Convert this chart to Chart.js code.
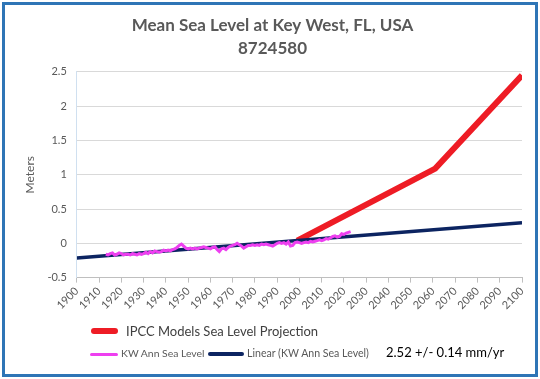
<!DOCTYPE html>
<html><head><meta charset="utf-8">
<script src="https://cdn.jsdelivr.net/npm/chart.js@4"></script>
<style>
html,body{margin:0;padding:0;background:#fff;}
#wrap{position:relative;width:540px;height:379px;overflow:hidden;}
#frame{position:absolute;left:2px;top:2px;width:530px;height:369px;border:3px solid #2e75b6;}
canvas{position:absolute;left:0;top:0;}
.lg{position:absolute;font-family:Lato,"Open Sans",sans-serif;color:#404040;white-space:nowrap;}
.sw{position:absolute;border-radius:3px;}
</style></head><body>
<div id="wrap">
<canvas id="c" width="540" height="379"></canvas>
<div id="frame"></div>
<div class="sw" style="left:91px;top:328px;width:27px;height:6px;background:#ee1c25"></div>
<div class="lg" style="left:126px;top:323px;font-size:13px;">IPCC Models Sea Level Projection</div>
<div class="sw" style="left:90px;top:353px;width:28px;height:3px;background:#ee3ff0"></div>
<div class="lg" style="left:121px;top:347px;font-size:10.4px;color:#595959">KW Ann Sea Level</div>
<div class="sw" style="left:208px;top:352px;width:36px;height:4px;background:#0c2461"></div>
<div class="lg" style="left:247px;top:347px;font-size:10.6px;color:#595959">Linear (KW Ann Sea Level)</div>
<div class="lg" style="left:386px;top:344px;font-size:13px;color:#000">2.52 +/- 0.14 mm/yr</div>
</div>
<script>
const kwStartYear = 1913;
const kwValues = [-0.16,-0.17,-0.15,-0.14,-0.17,-0.16,-0.14,-0.15,-0.17,-0.16,
-0.16,-0.17,-0.15,-0.16,-0.17,-0.15,-0.16,-0.15,-0.13,-0.15,
-0.12,-0.14,-0.11,-0.12,-0.13,-0.12,-0.10,-0.11,-0.10,-0.11,
-0.09,-0.08,-0.06,-0.03,-0.01,-0.04,-0.07,-0.08,-0.07,-0.08,
-0.07,-0.08,-0.07,-0.06,-0.05,-0.06,-0.07,-0.08,-0.06,-0.05,
-0.09,-0.12,-0.08,-0.07,-0.09,-0.06,-0.04,-0.03,-0.02,0.00,
-0.02,-0.04,-0.07,-0.05,-0.03,-0.03,-0.02,-0.03,-0.02,-0.03,
-0.01,-0.02,-0.01,-0.02,-0.03,-0.04,-0.02,0.00,0.01,0.00,
0.01,-0.01,0.02,-0.04,-0.03,0.01,0.02,0.01,0.00,0.01,
0.02,0.01,0.03,0.02,0.03,0.04,0.05,0.04,0.05,0.07,
0.06,0.08,0.10,0.11,0.09,0.10,0.14,0.13,0.15,0.16,0.17];
const ipccYears = [1999, 2061, 2100];
const ipccValues = [0.04, 1.09, 2.45];
const trendYears = [1900, 2100];
const trendValues = [-0.215, 0.30];
const yTicks = [-0.5, 0, 0.5, 1, 1.5, 2, 2.5];

const kwData = kwValues.map((v,i)=>({x:kwStartYear+i,y:v}));
const ipccData = ipccYears.map((x,i)=>({x:x,y:ipccValues[i]}));
const trendData = trendYears.map((x,i)=>({x:x,y:trendValues[i]}));

const FONT = 'Lato, "Open Sans", sans-serif';
new Chart(document.getElementById('c'), {
  type: 'scatter',
  data: { datasets: [
    {label:'KW Ann Sea Level', data:kwData, showLine:true, borderColor:'#ee3ff0', borderWidth:3, pointRadius:0, tension:0},
    {label:'Linear (KW Ann Sea Level)', data:trendData, showLine:true, borderColor:'#0c2461', borderWidth:3.5, pointRadius:0},
    {label:'IPCC Models Sea Level Projection', data:ipccData, showLine:true, borderColor:'#ee1c25', borderWidth:6, pointRadius:0}
  ]},
  options: {
    responsive:false, animation:false,
    layout:{padding:{left:23,right:18,top:6,bottom:65}},
    plugins:{
      legend:{display:false}, tooltip:{enabled:false},
      title:{display:true, text:['Mean Sea Level at Key West, FL, USA','8724580'], color:'#595959',
        font:{family:FONT,size:17,weight:'bold',lineHeight:1.35}, padding:{top:8,bottom:12}}
    },
    scales:{
      x:{type:'linear', min:1900, max:2100,
        ticks:{stepSize:10, autoSkip:false, minRotation:45, maxRotation:45, color:'#595959', font:{family:FONT,size:11}, padding:2,
          callback:(v)=>String(v)},
        grid:{display:true, drawOnChartArea:false, drawTicks:true, tickLength:5, color:'#bfbfbf'},
        border:{display:true,color:'#bfbfbf'}},
      y:{min:-0.5, max:2.5,
        afterBuildTicks:(ax)=>{ax.ticks = yTicks.map(v=>({value:v}));},
        ticks:{color:'#595959', font:{family:FONT,size:11}, padding:10, callback:(v)=>String(v)},
        grid:{color:'#d9d9d9', drawTicks:false},
        border:{display:true,color:'#d0e0f0'},
        title:{display:true,text:'Meters',color:'#595959',font:{family:FONT,size:12},padding:{top:0,bottom:0}}}
    }
  }
});
</script>
</body></html>
